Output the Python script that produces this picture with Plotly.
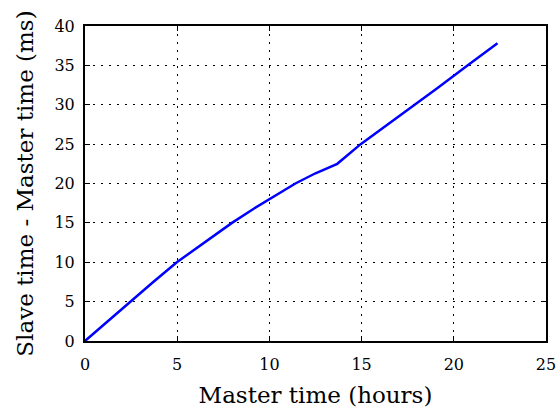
import plotly.graph_objects as go

# Clock drift of the slave relative to the master over the run
master_hours = [0, 1.2, 2.45, 3.7, 4.98, 6.43, 7.97, 9.15, 10.05, 11.41,
                12.5, 13.68, 14.95, 16.0, 17.93, 19.1, 20.74, 22.37]
offset_ms = [0, 2.45, 5.0, 7.5, 10.0, 12.4, 15.0, 16.8, 18.1, 20.0,
             21.3, 22.5, 25.0, 26.8, 30.0, 32.1, 35.0, 37.8]

x_ticks = [0, 5, 10, 15, 20, 25]
y_ticks = [0, 5, 10, 15, 20, 25, 30, 35, 40]

FONT = "DejaVu Serif"

fig = go.Figure()
fig.add_trace(go.Scatter(
    x=master_hours, y=offset_ms, mode="lines",
    line=dict(color="#0000ff", width=2.5),
    showlegend=False,
))

axis_common = dict(
    showline=True, linecolor="black", linewidth=2, mirror="ticks",
    ticks="inside", ticklen=5, tickwidth=1, tickcolor="black",
    showgrid=True, gridcolor="black", gridwidth=1, griddash="2px,6px",
    zeroline=False, automargin=False,
    tickfont=dict(family=FONT, size=16, color="black"),
)

fig.update_xaxes(
    range=[0, 25], tickvals=x_ticks, ticklabelstandoff=8,
    title=dict(text="Master time (hours)", font=dict(family=FONT, size=23, color="black"), standoff=14),
    **axis_common,
)
fig.update_yaxes(
    range=[0, 40], tickvals=y_ticks, ticklabelstandoff=5,
    title=dict(text="Slave time - Master time (ms)", font=dict(family=FONT, size=23, color="black"), standoff=14),
    **axis_common,
)

fig.update_layout(
    width=557, height=409,
    margin=dict(l=85, r=11, t=26, b=68),
    plot_bgcolor="white", paper_bgcolor="white",
)

fig.write_html("out.html")
